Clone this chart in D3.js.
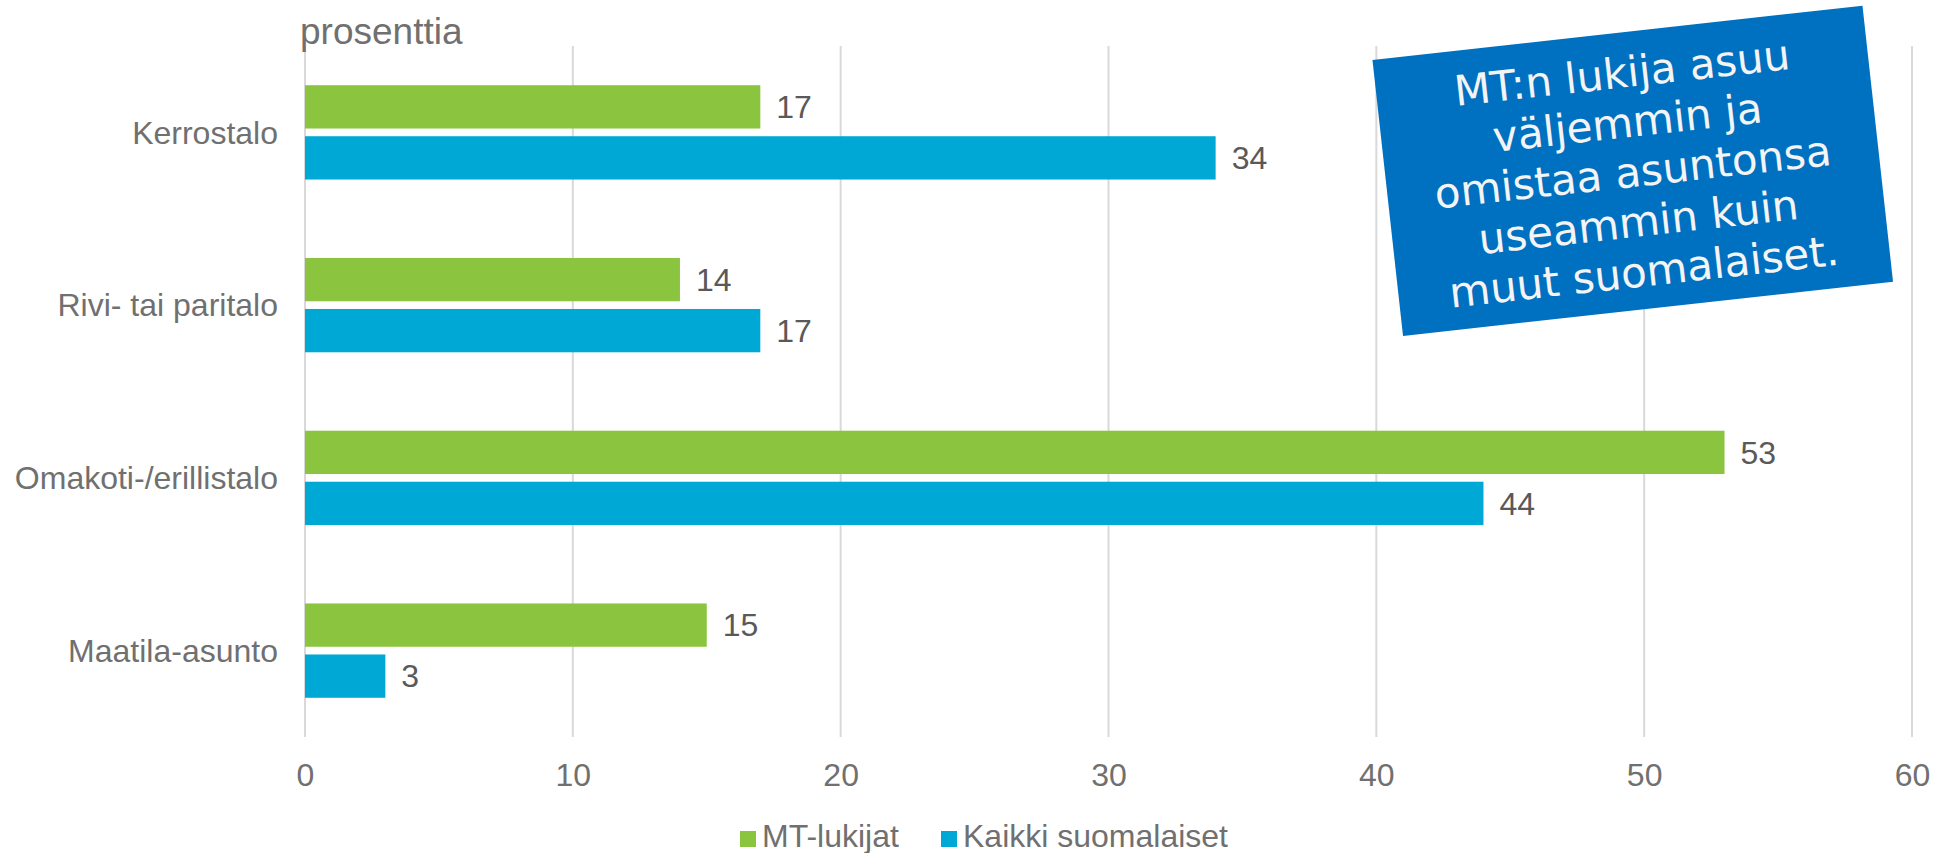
<!DOCTYPE html>
<html>
<head>
<meta charset="utf-8">
<script src="https://cdn.jsdelivr.net/npm/d3@7/dist/d3.min.js"></script>
<style>
  html, body { margin: 0; padding: 0; background: #ffffff; }
  svg { display: block; }
</style>
</head>
<body>
<svg id="chart" width="1934" height="853"></svg>
<script>
// ---- data ----
const categories = ["Kerrostalo", "Rivi- tai paritalo", "Omakoti-/erillistalo", "Maatila-asunto"];
const seriesNames = ["MT-lukijat", "Kaikki suomalaiset"];
const mtLukijat = [17, 14, 53, 15];
const kaikkiSuomalaiset = [34, 17, 44, 3];
const xTicks = [0, 10, 20, 30, 40, 50, 60];
const unitLabel = "prosenttia";
const noteLines = ["MT:n lukija asuu", "väljemmin ja", "omistaa asuntonsa", "useammin kuin", "muut suomalaiset."];

const seriesValues = [mtLukijat, kaikkiSuomalaiset];
const colors = ["#8bc540", "#00a8d5"];
const font = "'Liberation Sans', Arial, sans-serif";
const axisGray = "#707070";
const labelGray = "#595959";

const svg = d3.select("#chart");

const x = d3.scaleLinear().domain([0, 60]).range([305, 1912]);
const y0 = d3.scaleBand().domain(categories).range([46, 737]).paddingInner(0.454).paddingOuter(0.227);
const y1 = d3.scaleBand().domain(seriesNames).range([0, y0.bandwidth()]).paddingInner(0.151);

// gridlines
svg.append("g").selectAll("line").data(xTicks).join("line")
  .attr("x1", d => x(d)).attr("x2", d => x(d))
  .attr("y1", 46).attr("y2", 737)
  .attr("stroke", "#d9d9d9").attr("stroke-width", 2);

// x tick labels via axis
const xAxis = d3.axisBottom(x).tickValues(xTicks).tickSize(0).tickPadding(0).tickFormat(d3.format("d"));
const gx = svg.append("g").attr("transform", "translate(0,763)").call(xAxis);
gx.select(".domain").remove();
gx.selectAll("text")
  .attr("font-family", font).attr("font-size", 32).attr("fill", axisGray)
  .attr("dy", "0.72em");

// y category labels via axis
const yAxis = d3.axisLeft(y0).tickSize(0).tickPadding(0);
const gy = svg.append("g").attr("transform", "translate(278,0)").call(yAxis);
gy.select(".domain").remove();
gy.selectAll("text")
  .attr("font-family", font).attr("font-size", 32).attr("fill", axisGray)
  .attr("dy", "0.35em");

// bars
const rows = categories.map((c, i) => ({ cat: c, vals: seriesNames.map((s, j) => ({ s, j, v: seriesValues[j][i] })) }));
const groups = svg.append("g").selectAll("g").data(rows).join("g")
  .attr("transform", d => `translate(0,${y0(d.cat)})`);

groups.selectAll("rect").data(d => d.vals).join("rect")
  .attr("x", x(0))
  .attr("y", d => y1(d.s))
  .attr("width", d => x(d.v) - x(0))
  .attr("height", y1.bandwidth())
  .attr("fill", d => colors[d.j]);

groups.selectAll("text").data(d => d.vals).join("text")
  .attr("x", d => x(d.v) + 16)
  .attr("y", d => y1(d.s) + y1.bandwidth() / 2)
  .attr("dy", "0.35em")
  .attr("font-family", font).attr("font-size", 32).attr("fill", labelGray)
  .text(d => d.v);

// unit label
svg.append("text")
  .attr("x", 300).attr("y", 44)
  .attr("font-family", font).attr("font-size", 37).attr("fill", axisGray)
  .text(unitLabel);

// legend
const legend = svg.append("g");
const legendX = [740, 941];
seriesNames.forEach((s, i) => {
  legend.append("rect").attr("x", legendX[i]).attr("y", 831).attr("width", 16).attr("height", 16).attr("fill", colors[i]);
  legend.append("text").attr("x", legendX[i] + 22).attr("y", 847)
    .attr("font-family", font).attr("font-size", 32).attr("fill", axisGray).text(s);
});

// annotation box
const note = svg.append("g").attr("transform", "translate(1632.75,170.85) rotate(-6.32)");
note.append("rect").attr("x", -246.5).attr("y", -138.85).attr("width", 493).attr("height", 277.7).attr("fill", "#0070c0");
note.selectAll("text").data(noteLines).join("text")
  .attr("x", 0).attr("y", (d, i) => -84 + 50 * i)
  .attr("text-anchor", "middle")
  .attr("font-family", "'DejaVu Sans', Verdana, sans-serif").attr("font-size", 42).attr("fill", "#f4f4f4")
  .text(d => d);
</script>
</body>
</html>
